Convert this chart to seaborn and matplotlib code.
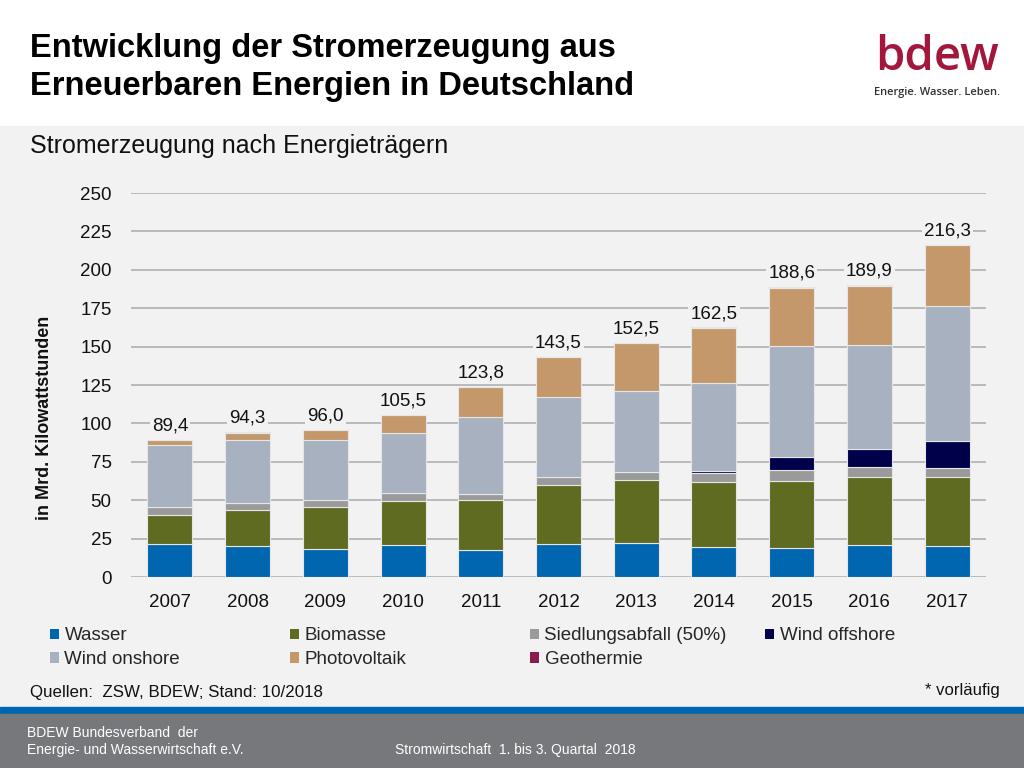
import numpy as np
import pandas as pd

import matplotlib.pyplot as plt
from matplotlib.patches import Rectangle, Patch
import seaborn as sns

### Set seaborn parameters
sns.set_theme(style="whitegrid")
plt.rcParams['font.family'] = ['Liberation Sans', 'DejaVu Sans']

# -- Data (TWh) -- #
years = ['2007', '2008', '2009', '2010', '2011', '2012', '2013', '2014', '2015', '2016', '2017']
wasser = [21.2, 20.0, 18.5, 20.6, 17.4, 21.8, 22.4, 19.3, 18.6, 20.6, 20.2]
biomasse = [19.4, 23.6, 27.0, 29.0, 32.6, 38.3, 40.5, 42.3, 44.1, 44.4, 45.0]
siedlungsabfall = [4.8, 4.8, 4.4, 4.9, 4.1, 5.0, 5.7, 6.2, 6.9, 6.3, 5.5]
wind_offshore = [0.0, 0.0, 0.0, 0.0, 0.0, 0.0, 0.0, 1.2, 8.2, 12.3, 17.9]
wind_onshore = [40.5, 41.1, 39.6, 39.0, 50.0, 51.9, 52.8, 57.3, 72.5, 67.6, 87.8]
photovoltaik = [3.5, 4.5, 6.2, 11.7, 19.4, 26.2, 30.8, 35.9, 38.0, 38.4, 39.5]
geothermie = [0.0, 0.3, 0.3, 0.3, 0.3, 0.3, 0.3, 0.3, 0.3, 0.3, 0.4]
totals = [89.4, 94.3, 96.0, 105.5, 123.8, 143.5, 152.5, 162.5, 188.6, 189.9, 216.3]

series_names = ['Wasser', 'Biomasse', 'Siedlungsabfall (50%)', 'Wind offshore',
                'Wind onshore', 'Photovoltaik', 'Geothermie']
series_values = [wasser, biomasse, siedlungsabfall, wind_offshore,
                 wind_onshore, photovoltaik, geothermie]
colors = ['#0066b0', '#5f6b21', '#9a9a9a', '#00004a', '#a7b1bf', '#c4986b', '#8c1c4e']

df = pd.DataFrame(dict(zip(series_names, series_values)), index=years)
df.index.name = 'Jahr'
df = df.reset_index()

bg = '#f2f2f2'

## Generate chart
fig = plt.figure(figsize=(10.24, 7.68), dpi=100, facecolor='white')

# slide background bands
def band(y_top, y_bot, color):
    fig.patches.append(Rectangle((0, 1 - y_bot / 768), 1, (y_bot - y_top) / 768,
                                 transform=fig.transFigure, color=color, zorder=-10))

band(126, 707, bg)
band(707, 714, '#0066b3')
band(714, 768, '#77787b')

ax = fig.add_axes([131 / 1024, 1 - 577 / 768, 855 / 1024, 384 / 768])
ax.set_facecolor(bg)

bottom = np.zeros(len(years))
for name, color in zip(series_names, colors):
    sns.barplot(data=df, x='Jahr', y=name, color=color, saturation=1,
                width=0.58, bottom=bottom, errorbar=None,
                edgecolor='#e6e6e6', linewidth=0.8, ax=ax, zorder=3)
    bottom = bottom + df[name].to_numpy()

# totals above bars
for i, t in enumerate(totals):
    ax.text(i, t + 3.5, f'{t:.1f}'.replace('.', ','), ha='center', va='bottom',
            fontsize=13.5, color='#111111', zorder=4,
            bbox=dict(facecolor=bg, edgecolor='none', pad=1.5))

ax.set_xlim(-0.5, 10.5)
ax.set_ylim(0, 250)
ax.set_yticks(np.arange(0, 251, 25))
ax.grid(axis='y', color='#ababab', linewidth=1.1, zorder=0)
ax.grid(axis='x', visible=False)
for s in ax.spines.values():
    s.set_visible(False)
ax.tick_params(axis='both', length=0, labelsize=13.5, colors='#111111')
ax.tick_params(axis='y', pad=14)
ax.tick_params(axis='x', pad=12)
ax.set_xlabel('')
ax.set_ylabel('')

fig.text(45 / 1024, 1 - 418 / 768, 'in Mrd. Kilowattstunden', rotation=90,
         ha='center', va='center', fontsize=13, fontweight='bold', color='#111111')

# Title/subtitle settings
fig.text(30 / 1024, 1 - 48 / 768, 'Entwicklung der Stromerzeugung aus',
         fontsize=23.5, fontweight='bold', va='center', color='black')
fig.text(30 / 1024, 1 - 86 / 768, 'Erneuerbaren Energien in Deutschland',
         fontsize=23.5, fontweight='bold', va='center', color='black')
fig.text(30 / 1024, 1 - 146 / 768, 'Stromerzeugung nach Energieträgern',
         fontsize=18, va='center', color='#111111')

# logo
fig.text(937 / 1024, 1 - 57 / 768, 'bdew', fontsize=34, ha='center', va='center',
         color='#a3173c', family=['Open Sans', 'Liberation Sans'], fontweight='semibold')
fig.text(937 / 1024, 1 - 93 / 768, 'Energie. Wasser. Leben.', fontsize=8,
         fontweight='semibold', ha='center', va='center', color='#333333',
         family=['Open Sans', 'Liberation Sans'])

# legend, four fixed columns
columns = [[0, 4], [1, 5], [2, 6], [3]]
col_x = [42, 282, 522, 757]
for cols, x in zip(columns, col_x):
    handles = [Patch(facecolor=colors[k], edgecolor='none', label=series_names[k]) for k in cols]
    fig.legend(handles=handles, loc='upper left', bbox_to_anchor=(x / 1024, 1 - 620 / 768),
               frameon=False, fontsize=13.5, handlelength=0.5, handleheight=0.5,
               handletextpad=0.3, labelspacing=0.35, borderaxespad=0)

fig.text(30 / 1024, 1 - 692 / 768, 'Quellen:  ZSW, BDEW; Stand: 10/2018',
         fontsize=12.2, va='center', color='#111111')
fig.text(1000 / 1024, 1 - 690 / 768, '* vorläufig', fontsize=12, ha='right',
         va='center', color='#111111')

fig.text(27 / 1024, 1 - 733 / 768, 'BDEW Bundesverband  der', fontsize=10,
         va='center', color='white')
fig.text(27 / 1024, 1 - 750 / 768, 'Energie- und Wasserwirtschaft e.V.', fontsize=10,
         va='center', color='white')
fig.text(395 / 1024, 1 - 750 / 768, 'Stromwirtschaft  1. bis 3. Quartal  2018',
         fontsize=10, va='center', color='white')

fig.savefig('out.png', dpi=100, facecolor=fig.get_facecolor())
plt.close()
